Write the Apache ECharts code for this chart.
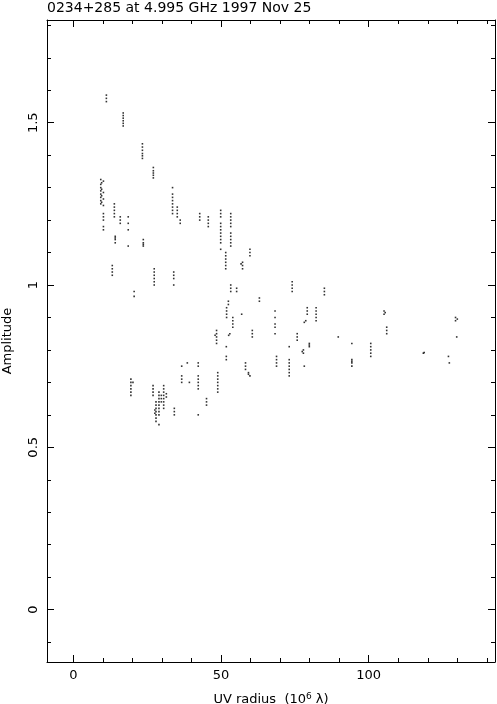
<!DOCTYPE html>
<html><head><meta charset="utf-8">
<script src="https://cdn.jsdelivr.net/npm/echarts@6/dist/echarts.min.js"></script>
<style>html,body{margin:0;padding:0;background:#fff;}#c{width:497px;height:704px;}</style>
</head><body><div id="c"></div>
<script>
// UV radius (10^6 lambda) of each streak of visibilities
const uvRadius = [11.2,16.9,23.4,27.1,9.3,9.6,10.2,13.9,15.9,18.6,14.2,23.7,33.6,35.2,36.2,42.8,13.2,20.6,27.4,34.0,
  45.7,49.9,53.3,51.6,59.8,57.3,56.8,55.3,52.5,51.9,63.0,57.0,54.0,68.3,48.5,48.0,53.0,52.6,60.6,51.8,58.3,59.3,59.8,68.8,
  38.6,36.7,42.3,39.3,48.9,45.1,28.0,27.6,29.0,29.8,30.6,31.5,34.2,19.5,20.2,27.0,74.1,85.0,79.2,82.2,78.7,78.2,75.8,79.9,
  73.1,77.9,77.5,89.7,94.3,100.7,105.2,105.6,106.1,118.5,118.8,127.0,127.3,129.4,130.0,129.8];
// amplitudes at each radius
const amplitude = [
  [1.585,1.575,1.565],[1.530,1.522,1.514,1.506,1.498,1.490],[1.435,1.425,1.415,1.405,1.398,1.390],[1.362,1.352,1.345,1.338,1.330],
  [1.325,1.31,1.30,1.29,1.28,1.27,1.26,1.25],[1.315,1.295,1.275,1.255],[1.32,1.285,1.265,1.245,1.22,1.21,1.20,1.18,1.17],
  [1.25,1.24,1.23,1.22,1.21],[1.21,1.20,1.19],[1.21,1.19,1.17,1.12],[1.15,1.145,1.14,1.13],[1.14,1.13,1.125,1.12],
  [1.30,1.28,1.27,1.26,1.25,1.24,1.23,1.22],[1.24,1.23,1.22,1.21],[1.20,1.19],[1.22,1.21,1.20],[1.06,1.05,1.04,1.03],
  [0.98,0.965],[1.05,1.04,1.03,1.02,1.01,1.00],[1.04,1.03,1.02,1.00],
  [1.21,1.20,1.19,1.18],[1.23,1.22,1.21,1.19,1.18,1.17,1.16,1.15,1.14,1.13,1.11],
  [1.22,1.21,1.20,1.19,1.18,1.16,1.15,1.14,1.13,1.12,1.00,0.99,0.98],[1.10,1.09,1.08,1.07,1.06,1.05],[1.11,1.10,1.09],
  [1.07,1.06,1.05],[1.065],[0.99,0.98],[0.95,0.94],[0.93,0.92,0.91,0.90],[0.96,0.95],[0.91],[0.90,0.89,0.88,0.87],
  [0.92,0.90,0.88,0.87,0.85],[0.86,0.85,0.84,0.83,0.82],[0.845],[0.85],[0.845],[0.86,0.85,0.84],[0.81,0.78,0.77],
  [0.76,0.75,0.74],[0.73,0.725],[0.72],[0.78,0.77,0.76,0.75],
  [0.76],[0.75,0.72,0.71,0.70],[0.76,0.75,0.72,0.71,0.70,0.69,0.68,0.60],[0.70],[0.73,0.72,0.71,0.70,0.69,0.68,0.67],
  [0.65,0.64,0.63],[0.64,0.63,0.62,0.61,0.60,0.59,0.58],[0.615,0.605],[0.67,0.66,0.65,0.64,0.63,0.62,0.61,0.60,0.57],
  [0.66,0.65,0.64],[0.69,0.68,0.67,0.66,0.65,0.64,0.63,0.62],[0.665,0.655],[0.62,0.61,0.60],[0.71,0.70,0.69,0.68,0.67,0.66],
  [0.70],[0.69,0.68,0.67,0.66],[1.01,1.00,0.99,0.98],[0.99,0.98,0.97],[0.93,0.92,0.91],[0.93,0.92,0.91,0.90,0.89],
  [0.89],[0.885,0.75],[0.85,0.84,0.83],[0.82,0.815,0.81],[0.81,0.77,0.76,0.75,0.74,0.73,0.72],[0.80,0.79],[0.795],
  [0.84],[0.82,0.77,0.765,0.76,0.75],[0.82,0.81,0.80,0.79,0.78],[0.92,0.91],[0.915],[0.87,0.86,0.85],[0.79],[0.792],
  [0.78],[0.76],[0.90,0.89],[0.895],[0.84]
];
const xMajorTicks = [0, 50, 100];
const xMinorTicks = [0,10,20,30,40,50,60,70,80,90,100,110,120,130,140];
const yMajorTicks = [0, 0.5, 1, 1.5];
const yMinorTicks = [-0.1,0,0.1,0.2,0.3,0.4,0.5,0.6,0.7,0.8,0.9,1.0,1.1,1.2,1.3,1.4,1.5,1.6,1.7,1.8];
const xRange = [-8.90, 142.76];
const yRange = [-0.1614, 1.8164];

const points = [];
uvRadius.forEach((r, i) => amplitude[i].forEach(a => points.push([r, a])));

const FONT = 'DejaVu Sans';
const black = '#000';
function xAx(pos, ticks, len, labels, line) {
  return {
    type: 'value', position: pos, min: xRange[0], max: xRange[1],
    axisLine: {show: line, onZero: false, lineStyle: {color: black, width: 1}},
    axisTick: {show: true, inside: true, length: len, customValues: ticks, lineStyle: {color: black, width: 1}},
    axisLabel: labels ? {show: true, customValues: xMajorTicks, color: black, fontSize: 13, fontFamily: FONT, margin: 7} : {show: false},
    splitLine: {show: false}, minorTick: {show: false}
  };
}
function yAx(pos, ticks, len, labels, line) {
  return {
    type: 'value', position: pos, min: yRange[0], max: yRange[1],
    axisLine: {show: line, onZero: false, lineStyle: {color: black, width: 1}},
    axisTick: {show: true, inside: true, length: len, customValues: ticks, lineStyle: {color: black, width: 1}},
    axisLabel: labels ? {show: true, customValues: yMajorTicks, color: black, fontSize: 13, fontFamily: FONT, margin: 7, rotate: 90,
      formatter: v => String(v)} : {show: false},
    splitLine: {show: false}, minorTick: {show: false}
  };
}
const xa0 = xAx('bottom', xMajorTicks, 7, true, true);
xa0.name = 'UV radius  (10{sup|6} λ)';
xa0.nameLocation = 'middle';
xa0.nameGap = 30;
xa0.nameTextStyle = {color: black, fontSize: 13, fontFamily: FONT,
  rich: {sup: {fontSize: 9, verticalAlign: 'top', padding: [0,0,7,0], color: black, fontFamily: FONT}}};
const ya0 = yAx('left', yMajorTicks, 7, true, true);
ya0.name = 'Amplitude';
ya0.nameLocation = 'middle';
ya0.nameGap = 33;
ya0.nameTextStyle = {color: black, fontSize: 13, fontFamily: FONT};

const chart = echarts.init(document.getElementById('c'), null, {renderer: 'canvas'});
chart.setOption({
  animation: false,
  backgroundColor: '#fff',
  title: {text: '0234+285 at 4.995 GHz 1997 Nov 25', left: 47, top: 1, padding: 0,
    textStyle: {color: black, fontSize: 14, fontWeight: 'normal', fontFamily: FONT}},
  grid: {left: 47, top: 20, width: 448, height: 642, containLabel: false, outerBoundsMode: 'none'},
  xAxis: [xa0, xAx('bottom', xMinorTicks, 4, false, false), xAx('top', xMajorTicks, 7, false, true), xAx('top', xMinorTicks, 4, false, false)],
  yAxis: [ya0, yAx('left', yMinorTicks, 4, false, false), yAx('right', yMajorTicks, 7, false, true), yAx('right', yMinorTicks, 4, false, false)],
  series: [{
    type: 'scatter', xAxisIndex: 0, yAxisIndex: 0, data: points,
    symbol: 'rect', symbolSize: 1.6, itemStyle: {color: black}, silent: true
  }]
});
</script></body></html>
